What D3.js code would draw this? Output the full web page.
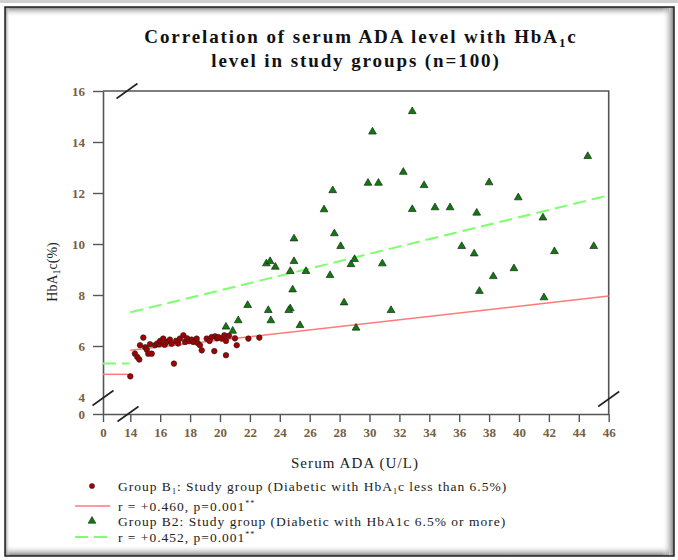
<!DOCTYPE html>
<html>
<head>
<meta charset="utf-8">
<script src="https://cdn.jsdelivr.net/npm/d3@7"></script>
<style>
  body { margin: 0; background: #fff; }
  svg { display: block; }
  text { font-family: "Liberation Serif", "Times New Roman", serif; }
</style>
</head>
<body>
<div id="canvas"></div>
<script>
// group B1 (HbA1c < 6.5%) : [ADA, HbA1c]
const groupB1 = [
  [14.0, 4.81], [14.31, 5.70], [14.47, 5.57], [14.6, 5.47], [14.65, 6.03],
  [14.87, 6.33], [15.0, 5.95], [15.1, 5.86], [15.2, 5.70], [15.43, 5.70],
  [15.32, 6.07], [15.65, 6.03], [15.8, 6.1], [15.94, 6.07], [16.0, 6.2],
  [16.2, 6.29], [16.3, 6.05], [16.43, 6.16], [16.65, 6.25], [16.77, 6.09],
  [16.92, 5.31], [17.06, 6.2], [17.2, 6.1], [17.32, 6.29], [17.55, 6.42],
  [17.66, 6.16], [17.8, 6.3], [17.95, 6.2], [18.1, 6.25], [18.21, 6.16],
  [18.44, 6.29], [18.5, 6.12], [18.66, 6.03], [18.78, 5.83], [19.11, 6.29],
  [19.3, 6.2], [19.44, 6.35], [19.62, 5.80], [19.67, 6.38], [19.8, 6.3],
  [19.89, 6.35], [20.11, 6.29], [20.29, 6.42], [20.4, 6.2], [20.4, 5.64],
  [20.6, 6.4], [21.0, 6.3], [21.12, 6.03], [21.9, 6.29], [22.63, 6.33]
];

// group B2 (HbA1c >= 6.5%)
const groupB2 = [
  [27.54, 12.1], [29.9, 12.39], [30.6, 12.39], [26.96, 11.35], [27.65, 10.41],
  [24.95, 10.21], [28.07, 9.91], [23.1, 9.23], [23.35, 9.32], [23.7, 9.1],
  [24.95, 9.32], [24.7, 8.93], [25.75, 8.93], [29.0, 9.4], [28.76, 9.2],
  [30.86, 9.23], [27.36, 8.77], [24.86, 8.21], [21.85, 7.6], [23.23, 7.4],
  [24.7, 7.47], [24.6, 7.4], [28.3, 7.7], [31.44, 7.4], [21.22, 7.0],
  [23.4, 7.0], [25.35, 6.81], [29.1, 6.71], [20.4, 6.75], [20.85, 6.59],
  [32.86, 15.2], [32.26, 12.82], [33.65, 12.3], [38.0, 12.41], [44.6, 13.44],
  [39.95, 11.82], [32.86, 11.36], [34.38, 11.43], [35.39, 11.43], [37.17, 11.22],
  [41.6, 11.03], [36.17, 9.91], [37.0, 9.62], [45.0, 9.91], [42.37, 9.71],
  [39.66, 9.04], [38.28, 8.73], [37.35, 8.15], [41.67, 7.9], [30.2, 14.4]
];

// regression lines: [ADA, HbA1c] end points, plus value shown in the break region
const fitB1 = [[14, 5.83], [46, 7.96]];
const fitB2 = [[14, 7.32], [46, 11.91]];
const stubB1 = [[0, 4.89], [13, 4.89]];
const stubB2 = [[0, 5.31], [13.5, 5.31]];

const xTicks = [0, 14, 16, 18, 20, 22, 24, 26, 28, 30, 32, 34, 36, 38, 40, 42, 44, 46];
const yTicks = [0, 4, 6, 8, 10, 12, 14, 16];

const legendItems = [
  { kind: "dot", text: ["Group B", "1", ": Study group (Diabetic with HbA", "1", "c less than 6.5%)"] },
  { kind: "solid", text: ["r = +0.460, p=0.001", "**"] },
  { kind: "tri", text: ["Group B2: Study group (Diabetic with HbA1c 6.5% or more)"] },
  { kind: "dash", text: ["r = +0.452, p=0.001", "**"] }
];

const width = 678;
const height = 560;
const plot = { left: 103, right: 608.7, top: 91, bottom: 414 };

const svg = d3.select("#canvas").append("svg")
  .attr("width", width)
  .attr("height", height);

// frame
const defs = svg.append("defs");
const grad = (id, x1, y1, x2, y2) => {
  const g = defs.append("linearGradient").attr("id", id)
    .attr("x1", x1).attr("y1", y1).attr("x2", x2).attr("y2", y2);
  g.append("stop").attr("offset", "0%").attr("stop-color", "#777");
  g.append("stop").attr("offset", "100%").attr("stop-color", "#fff").attr("stop-opacity", 0);
};
grad("gTop", 0, 0, 0, 1);
grad("gBot", 0, 1, 0, 0);
grad("gLeft", 0, 0, 1, 0);
grad("gRight", 1, 0, 0, 0);

svg.append("rect").attr("x", 0).attr("y", 0).attr("width", width).attr("height", 3).attr("fill", "#cfcfcf");
svg.append("rect").attr("x", 5).attr("y", 7).attr("width", 664).attr("height", 10).attr("fill", "url(#gTop)");
svg.append("rect").attr("x", 5).attr("y", 545).attr("width", 664).attr("height", 11).attr("fill", "url(#gBot)");
svg.append("rect").attr("x", 5).attr("y", 7).attr("width", 5).attr("height", 549).attr("fill", "url(#gLeft)");
svg.append("rect").attr("x", 662).attr("y", 7).attr("width", 12).attr("height", 549).attr("fill", "url(#gRight)");
svg.append("rect").attr("x", 5).attr("y", 7).attr("width", 669).attr("height", 549)
  .attr("fill", "none").attr("stroke", "#222").attr("stroke-width", 1.5);

// title
const title = svg.append("text").attr("text-anchor", "middle")
  .attr("font-weight", "bold").attr("font-size", 19).attr("fill", "#111")
  .attr("letter-spacing", 1.9);
const t1 = title.append("tspan").attr("x", 361).attr("y", 43);
t1.append("tspan").text("Correlation of serum ADA level with HbA");
t1.append("tspan").attr("font-size", 13).attr("dy", 4).text("1");
t1.append("tspan").attr("dy", -4).text("c");
title.append("tspan").attr("x", 356).attr("y", 67).text("level in study groups (n=100)");

// scales with broken segments
const x = d3.scaleLinear().domain([0, 14, 46]).range([plot.left, 130.3, plot.right]);
const y = d3.scaleLinear().domain([0, 4, 16]).range([plot.bottom, 397, plot.top]);

const axisColor = "#555";
const tickColor = "#76603f";

const gx = svg.append("g").attr("transform", `translate(0,${plot.bottom})`)
  .call(d3.axisBottom(x).tickValues(xTicks).tickSize(8).tickSizeOuter(0).tickPadding(6));
const gy = svg.append("g").attr("transform", `translate(${plot.left},0)`)
  .call(d3.axisLeft(y).tickValues(yTicks).tickSize(10).tickSizeOuter(0).tickPadding(8));

[gx, gy].forEach((g) => {
  g.select(".domain").attr("stroke", axisColor).attr("stroke-width", 1.6);
  g.selectAll(".tick line").attr("stroke", axisColor).attr("stroke-width", 1.4);
  g.selectAll(".tick text")
    .attr("font-family", "'Liberation Serif', serif")
    .attr("font-size", 13).attr("font-weight", "bold").attr("fill", tickColor);
});
gy.selectAll(".tick").filter((d) => d === 4).select("line").remove();

// top + right borders
svg.append("path")
  .attr("d", `M${plot.left},${plot.top}H${plot.right}V${plot.bottom}`)
  .attr("fill", "none").attr("stroke", axisColor).attr("stroke-width", 1.6);

// break marks
const slash = (cx, cy) => {
  svg.append("line")
    .attr("x1", cx - 10.5).attr("y1", cy + 7.5).attr("x2", cx + 10.5).attr("y2", cy - 7.5)
    .attr("stroke", "#222").attr("stroke-width", 1.6);
};
slash(127, plot.top);
slash(128, plot.bottom);
slash(plot.left, 398);
slash(plot.right, 399);

// regression lines
const line = d3.line().x((d) => x(d[0])).y((d) => y(d[1]));
svg.append("path").attr("d", line(stubB1)).attr("fill", "none")
  .attr("stroke", "#ff7a7a").attr("stroke-width", 1.5);
svg.append("path").attr("d", line(fitB1)).attr("fill", "none")
  .attr("stroke", "#ff7a7a").attr("stroke-width", 1.5);
svg.append("path").attr("d", line(stubB2)).attr("fill", "none")
  .attr("stroke", "#7dff6e").attr("stroke-width", 2).attr("stroke-dasharray", "13,6");
svg.append("path").attr("d", line(fitB2)).attr("fill", "none")
  .attr("stroke", "#7dff6e").attr("stroke-width", 2).attr("stroke-dasharray", "13,6");

// points
const tri = d3.symbol().type(d3.symbolTriangle).size(26);
svg.append("g").selectAll("path")
  .data(groupB2)
  .enter()
  .append("path")
  .attr("d", tri)
  .attr("transform", (d) => `translate(${x(d[0])},${y(d[1])})`)
  .attr("fill", "#0a7d0a").attr("stroke", "#222").attr("stroke-width", 0.7);

svg.append("g").selectAll("circle")
  .data(groupB1)
  .enter()
  .append("circle")
  .attr("cx", (d) => x(d[0]))
  .attr("cy", (d) => y(d[1]))
  .attr("r", 2.8)
  .attr("fill", "#a30000").attr("stroke", "#222").attr("stroke-width", 0.6);

// axis titles
svg.append("text").attr("x", 355).attr("y", 468).attr("text-anchor", "middle")
  .attr("font-size", 15).attr("letter-spacing", 1.1).attr("fill", "#222").text("Serum ADA (U/L)");

const yl = svg.append("text").attr("transform", "translate(57,272) rotate(-90)")
  .attr("text-anchor", "middle").attr("font-size", 14).attr("fill", "#222");
yl.append("tspan").text("HbA");
yl.append("tspan").attr("font-size", 10).attr("dy", 3).text("1");
yl.append("tspan").attr("dy", -3).text("c(%)");

// legend
const lg = svg.append("g");
legendItems.forEach((item, i) => {
  const cy = [486, 506, 521, 537][i];
  if (item.kind === "dot") {
    lg.append("circle").attr("cx", 92).attr("cy", cy).attr("r", 2.6)
      .attr("fill", "#a30000").attr("stroke", "#222").attr("stroke-width", 0.5);
  } else if (item.kind === "tri") {
    lg.append("path").attr("d", tri).attr("transform", `translate(92,${cy})`)
      .attr("fill", "#0a7d0a").attr("stroke", "#222").attr("stroke-width", 0.6);
  } else if (item.kind === "solid") {
    lg.append("line").attr("x1", 75).attr("x2", 110).attr("y1", cy).attr("y2", cy)
      .attr("stroke", "#ff7a7a").attr("stroke-width", 1.5);
  } else {
    lg.append("line").attr("x1", 75).attr("x2", 112).attr("y1", cy).attr("y2", cy)
      .attr("stroke", "#7dff6e").attr("stroke-width", 1.8).attr("stroke-dasharray", "13,6");
  }
  const t = lg.append("text").attr("x", 118).attr("y", cy + 4.5)
    .attr("font-size", 13.5).attr("letter-spacing", 1).attr("fill", "#222");
  item.text.forEach((s, j) => {
    const sub = s === "1";
    const sup = s === "**";
    const ts = t.append("tspan").text(s);
    if (sub) ts.attr("font-size", 8).attr("dy", 3);
    else if (sup) ts.attr("font-size", 8).attr("dy", -5);
    else if (j > 0 && item.text[j - 1] === "1") ts.attr("dy", -3);
  });
});
</script>
</body>
</html>
